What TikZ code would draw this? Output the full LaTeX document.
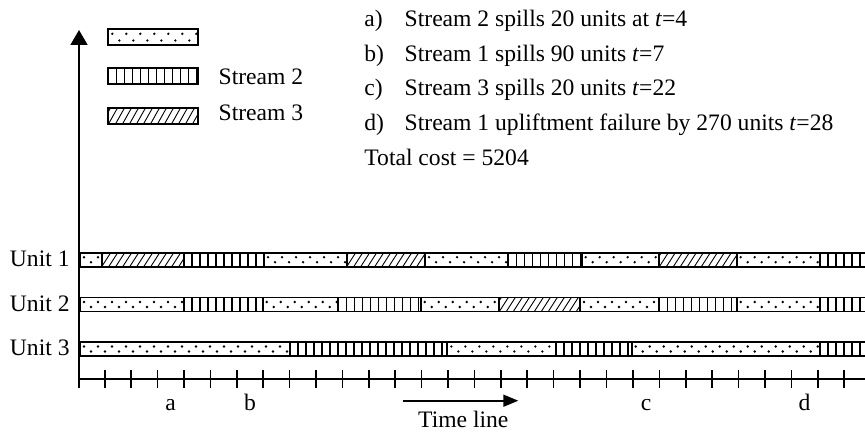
\documentclass[tikz,border=0pt]{standalone}
\usepackage{fontspec}
\setmainfont{Liberation Serif}
\usetikzlibrary{arrows.meta}
\tikzset{
  segline/.style={line width=0.9pt},
  axisline/.style={line width=0.8pt},
  txt/.style={font=\fontsize{11.8pt}{14pt}\selectfont, inner sep=0pt},
}
% dotted segment: x1, x2, ytop, ybottom
\newcommand\segD[4]{%
  \begin{scope}
    \clip (#1,#3) rectangle (#2,#4);
    \foreach \k in {0,...,16}{
      \fill ({#1+4+\k*14},{#3+4.5}) circle (0.65pt);
      \fill ({#1+11+\k*14},{#4-4.5}) circle (0.65pt);
    }
  \end{scope}
  \draw[segline] (#1,#3) rectangle (#2,#4);
}
% striped segment
\newcommand\segS[4]{%
  \begin{scope}
    \clip (#1,#3) rectangle (#2,#4);
    \foreach \k in {1,...,26}{
      \draw[line width=0.65pt] ({#1+\k*8},#3) -- ({#1+\k*8},#4);
    }
  \end{scope}
  \draw[segline] (#1,#3) rectangle (#2,#4);
}
% hatched segment
\newcommand\segH[4]{%
  \begin{scope}
    \clip (#1,#3) rectangle (#2,#4);
    \foreach \k in {-2,...,14}{
      \draw[line width=0.45pt] ({#1+\k*7},#4) -- ({#1+\k*7+9},#3);
    }
  \end{scope}
  \draw[segline] (#1,#3) rectangle (#2,#4);
}
\begin{document}
\begin{tikzpicture}[x=0.5pt,y=-0.5pt]
\useasboundingbox (0,0) rectangle (865,433);

% legend
\segD{108.3}{197.7}{29.3}{45}
\segS{108.3}{197.7}{68.3}{84}
\segH{108.3}{197.7}{108.3}{124.3}
\node[txt,anchor=base west] (ls2) at (218.3,84) {Stream 2};
\node[txt,anchor=base west] (ls3) at (218.3,120) {Stream 3};

% event text
\node[txt,anchor=base west] (la) at (364,26.7) {a)};
\node[txt,anchor=base west] (ta) at (404.3,26.7) {Stream 2 spills 20 units at \textit{t}=4};
\node[txt,anchor=base west] (lb) at (364,61.2) {b)};
\node[txt,anchor=base west] (tb) at (404.3,61.2) {Stream 1 spills 90 units \textit{t}=7};
\node[txt,anchor=base west] (lc) at (364,95.7) {c)};
\node[txt,anchor=base west] (tc) at (404.3,95.7) {Stream 3 spills 20 units \textit{t}=22};
\node[txt,anchor=base west] (ld) at (364,130.2) {d)};
\node[txt,anchor=base west] (td) at (404.3,130.2) {Stream 1 upliftment failure by 270 units \textit{t}=28};
\node[txt,anchor=base west] (tot) at (364,165) {Total cost = 5204};

% unit labels
\node[txt,anchor=base east] (u1) at (70,266.2) {Unit 1};
\node[txt,anchor=base east] (u2) at (70,311) {Unit 2};
\node[txt,anchor=base east] (u3) at (70,355.4) {Unit 3};

% Unit 1 bar
\segD{80}{101.7}{252.7}{266.7}
\segH{101.7}{184}{252.7}{266.7}
\segS{184}{264}{252.7}{266.7}
\segD{264}{346.7}{252.7}{266.7}
\segH{346.7}{425}{252.7}{266.7}
\segD{425}{508.3}{252.7}{266.7}
\segS{508.3}{581.7}{252.7}{266.7}
\segD{581.7}{659.3}{252.7}{266.7}
\segH{659.3}{736.7}{252.7}{266.7}
\segD{736.7}{820}{252.7}{266.7}
\segS{820}{867}{252.7}{266.7}

% Unit 2 bar
\segD{80}{184}{297.5}{311.5}
\segS{184}{262.7}{297.5}{311.5}
\segD{262.7}{338.3}{297.5}{311.5}
\segS{338.3}{420.7}{297.5}{311.5}
\segD{420.7}{499.3}{297.5}{311.5}
\segH{499.3}{580}{297.5}{311.5}
\segD{580}{659.3}{297.5}{311.5}
\segS{659.3}{736.7}{297.5}{311.5}
\segD{736.7}{820}{297.5}{311.5}
\segS{820}{867}{297.5}{311.5}

% Unit 3 bar
\segD{80}{290}{342}{356}
\segS{290}{447.3}{342}{356}
\segD{447.3}{556}{342}{356}
\segS{556}{631.7}{342}{356}
\segD{631.7}{820}{342}{356}
\segS{820}{867}{342}{356}

% axes
\coordinate (o) at (79,379);
\coordinate (ybot) at (79,388);
\coordinate (ytop) at (79,30);
\coordinate (xend) at (866,379);
\draw[axisline,-{Triangle[length=7.5pt,width=8.5pt]}] (ybot) -- (ytop);
\draw[axisline] (78.3,379) -- (xend);
\foreach \i in {0,...,29}{
  \draw[axisline] ({78.3+\i*26.41},370) -- ({78.3+\i*26.41},388);
}

% event marks
\node[txt,anchor=base] (ma) at (170.7,410) {a};
\node[txt,anchor=base] (mb) at (250,410) {b};
\node[txt,anchor=base] (mc) at (646.1,410) {c};
\node[txt,anchor=base] (md) at (804.6,410) {d};

% time line arrow
\coordinate (ts) at (402.7,400.7);
\coordinate (te) at (518.3,400.7);
\draw[axisline,-{Triangle[length=7.5pt,width=6pt]}] (ts) -- (te);
\node[txt,anchor=base] (tl) at (463.3,427) {Time line};
\end{tikzpicture}
\end{document}
